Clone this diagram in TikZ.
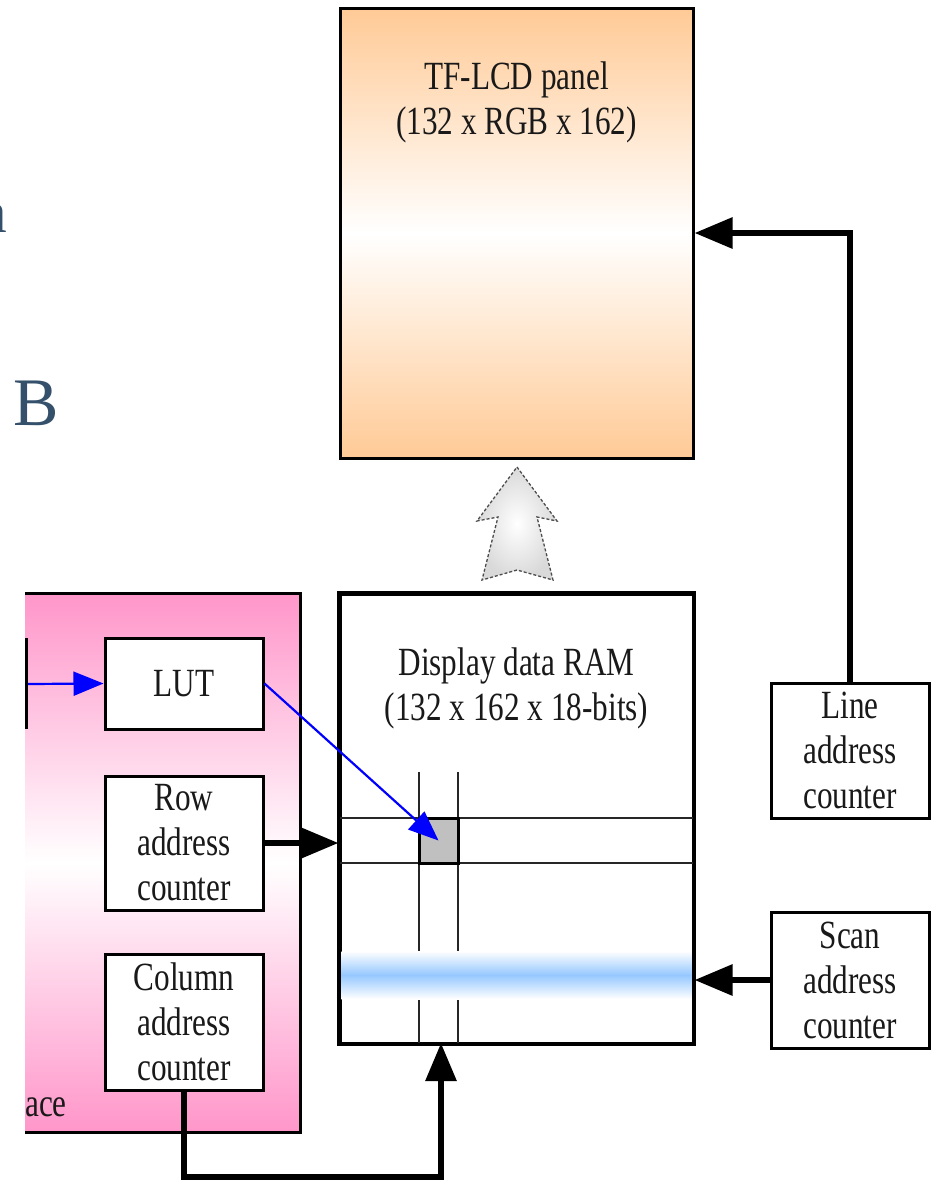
\documentclass[tikz,border=0pt]{standalone}
\usepackage{fontspec}
\setmainfont[FakeStretch=0.78]{Liberation Serif}
\newfontfamily\slidefont{Liberation Serif}
\usetikzlibrary{arrows.meta}
\definecolor{panelorange}{RGB}{255,202,150}
\definecolor{ifpink}{RGB}{255,150,202}
\definecolor{bandblue}{RGB}{150,200,255}
\definecolor{cellgray}{RGB}{192,192,192}
\definecolor{slate}{RGB}{52,80,107}
\definecolor{txtgray}{RGB}{25,25,25}
\begin{document}
\begin{tikzpicture}[x=1pt,y=-1pt,
  box/.style={draw=black,line width=3pt,fill=white,inner sep=0pt,
    font=\fontsize{40}{45}\selectfont,align=center,text=txtgray},
  biglabel/.style={inner sep=0pt,font=\fontsize{40}{45}\selectfont,
    align=center,text=txtgray},
  gridline/.style={line width=1.5pt,black!85},
  thickarrow/.style={line width=6pt,line join=miter,
    -{Triangle[length=38pt,width=30pt]}},
  bluearrow/.style={blue,line width=2.2pt,-{Triangle[length=30pt,width=24pt]}}
]
\useasboundingbox (0,0) rectangle (932,1184);

% slide text fragments
\begin{scope}
\clip (0,0) rectangle (932,1184);
\node[anchor=base east,inner sep=0pt,text=slate,font=\slidefont\fontsize{60}{60}\selectfont] (slidea) at (7,232) {a};
\node[anchor=base west,inner sep=0pt,text=slate,font=\slidefont\fontsize{68}{68}\selectfont] (slideb) at (13,425) {B};
\end{scope}

% TF-LCD panel
\node[draw=black,line width=3pt,inner sep=0pt,minimum width=353pt,minimum height=450pt,
  top color=panelorange,bottom color=panelorange,middle color=white] (panel) at (516.5,233) {};
\node[biglabel] (panellabel) at (516.5,102.5) {TF-LCD panel\\(132 x RGB x 162)};

% interface block (left part cut off)
\node[inner sep=0pt,minimum width=275pt,minimum height=538pt,
  top color=ifpink,bottom color=ifpink,middle color=white] (iface) at (162.5,863) {};
\draw[line width=3pt,line join=miter] (iface.north west) -- (iface.north east) -- (iface.south east) -- (iface.south west);
\begin{scope}
\clip (25,594) rectangle (300,1132);
\node[anchor=base east,inner sep=0pt,text=txtgray,font=\fontsize{40}{45}\selectfont] (ifacelabel) at (67,1116) {Interface};
\end{scope}
\draw[line width=3pt] (26.5,638) -- (26.5,729);
\coordinate (lutsrc) at (28,684);

\node[box,minimum width=158pt,minimum height=91pt] (lut) at (184,683.5) {LUT};
\node[box,minimum width=158pt,minimum height=134pt] (row) at (184,843) {Row\\address\\counter};
\node[box,minimum width=158pt,minimum height=136pt] (col) at (184,1022) {Column\\address\\counter};

% Display data RAM
\node[draw=black,line width=3pt,fill=white,inner sep=0pt,minimum width=353pt,minimum height=449pt] (ram) at (516.5,818.5) {};
\node[biglabel] (ramlabel) at (516.5,688) {Display data RAM\\(132 x 162 x 18-bits)};
\draw[gridline] (419,772) -- (419,1043);
\draw[gridline] (458,772) -- (458,1043);
\draw[gridline] (ram.west |- 0,818) -- (ram.east |- 0,818);
\draw[gridline] (ram.west |- 0,863) -- (ram.east |- 0,863);
\shade[top color=white,bottom color=white,middle color=bandblue] (341.5,951) rectangle (691.5,999);
\node[draw=black,line width=3pt,fill=cellgray,inner sep=0pt,minimum width=39pt,minimum height=45pt] (cell) at (438.5,840.5) {};
\draw[line width=3pt] (ram.north west) rectangle (ram.south east);

% hollow data arrow RAM -> panel
\shadedraw[draw=black!70,line width=1.3pt,densely dashed,inner color=white,outer color=black!15]
  (517,467) -- (557,521) -- (537,517) -- (553,580) -- (517,570) -- (482,580) -- (498,517) -- (477,521) -- cycle;

\node[box,minimum width=158pt,minimum height=135pt] (line) at (850,750.5) {Line\\address\\counter};
\node[box,minimum width=158pt,minimum height=136pt] (scan) at (850,980) {Scan\\address\\counter};

% connectors
\draw[bluearrow] (lutsrc) -- (lut.west);
\draw[bluearrow] (lut.east) -- (cell.center);
\draw[thickarrow] (row.east) -- (row.east -| ram.west);
\draw[thickarrow] (col.south) -- ++(0,85) -| (441,1043);
\draw[thickarrow] (line.north) |- (panel.east);
\draw[thickarrow] (scan.west) -- (scan.west -| ram.east);
\end{tikzpicture}
\end{document}
